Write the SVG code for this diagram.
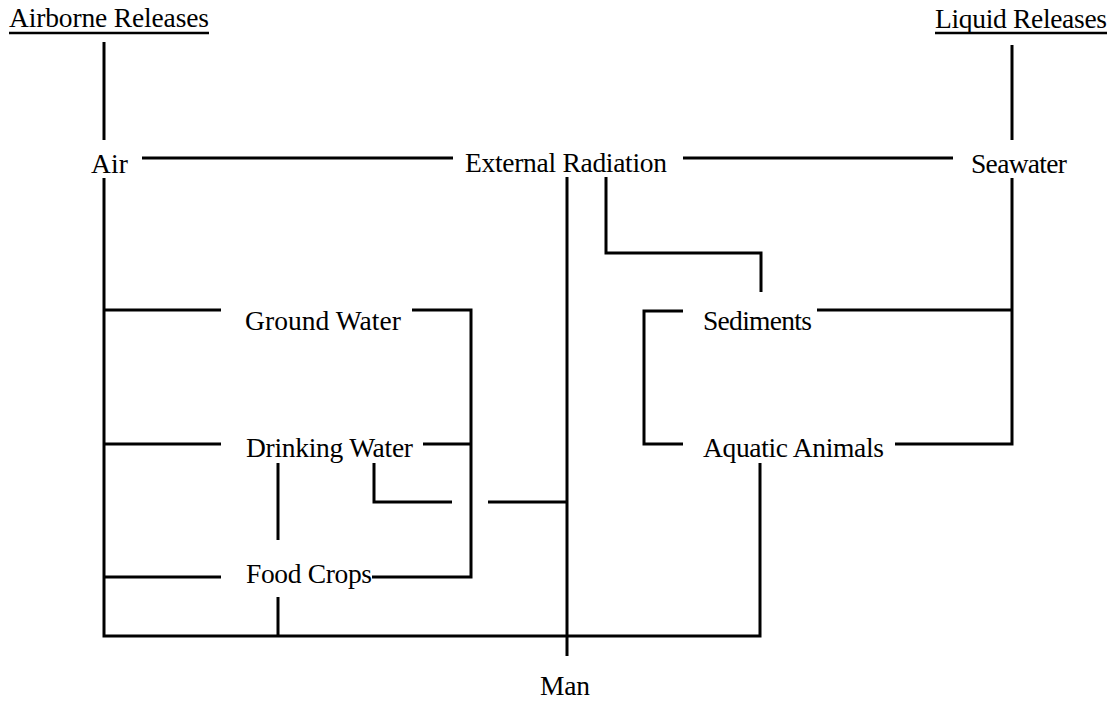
<svg xmlns="http://www.w3.org/2000/svg" width="1117" height="703" viewBox="0 0 1117 703">
<style>
text{font-family:"Liberation Serif","Times New Roman",serif;font-size:27.5px;fill:#000}
.c line,.c polyline{stroke:#000;stroke-width:3;fill:none;stroke-linecap:butt}
.u{stroke:#000;stroke-width:2.4}
</style>
<rect width="1117" height="703" fill="#fff"/>
<g id="airborne"><text x="9" y="27" textLength="200">Airborne Releases</text><line class="u" x1="9" y1="33" x2="209" y2="33"/></g>
<g id="liquid"><text x="935" y="28" textLength="172">Liquid Releases</text><line class="u" x1="935" y1="33" x2="1107" y2="33"/></g>
<g id="air"><text x="91" y="173" textLength="37">Air</text></g>
<g id="external"><text x="465" y="172" textLength="202">External Radiation</text></g>
<g id="seawater"><text x="971" y="173" textLength="96">Seawater</text></g>
<g id="ground"><text x="245" y="330" textLength="156">Ground Water</text></g>
<g id="drinking"><text x="246" y="457" textLength="167">Drinking Water</text></g>
<g id="food"><text x="246" y="583" textLength="126">Food Crops</text></g>
<g id="sediments"><text x="703" y="330" textLength="109">Sediments</text></g>
<g id="aquatic"><text x="703" y="457" textLength="181">Aquatic Animals</text></g>
<g id="man"><text x="540" y="695" textLength="50">Man</text></g>
<g class="c" id="connectors">
<line x1="104" y1="42" x2="104" y2="140"/>
<line x1="1012" y1="45" x2="1012" y2="140"/>
<line x1="142" y1="158" x2="453" y2="158"/>
<line x1="683" y1="158" x2="953" y2="158"/>
<polyline points="104,178 104,636 760,636 760,463"/>
<line x1="104" y1="310" x2="221" y2="310"/>
<line x1="104" y1="444" x2="221" y2="444"/>
<line x1="104" y1="577" x2="221" y2="577"/>
<polyline points="412,310 471,310 471,577 372,577"/>
<line x1="423" y1="444" x2="471" y2="444"/>
<line x1="278" y1="463" x2="278" y2="540"/>
<line x1="278" y1="597" x2="278" y2="636"/>
<polyline points="374,463 374,502 452,502"/>
<line x1="488" y1="502" x2="567" y2="502"/>
<line x1="567" y1="177" x2="567" y2="656"/>
<polyline points="606,177 606,253 761,253 761,292"/>
<polyline points="683,311 644,311 644,444 683,444"/>
<polyline points="817,310 1012,310"/>
<polyline points="1012,178 1012,444 895,444"/>
</g>
</svg>
